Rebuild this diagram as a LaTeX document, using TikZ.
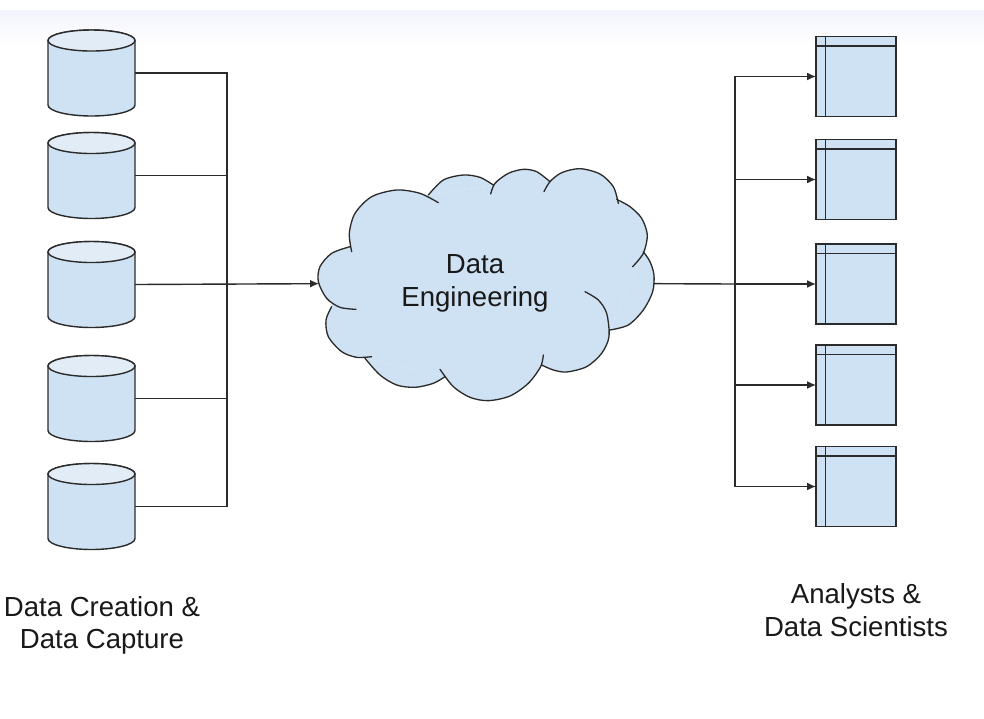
\documentclass[tikz,border=0pt]{standalone}
\usepackage{fontspec}
\setmainfont{Liberation Sans}
\usetikzlibrary{arrows.meta}

\definecolor{boxblue}{HTML}{CFE2F3}
\definecolor{capblue}{HTML}{E2ECF6}
\definecolor{linegray}{HTML}{2B2B2B}
\definecolor{bandtop}{HTML}{F3F4FB}

% cloud outline, one smooth plot per lobe (coordinates read off a 3x crop)
\def\cloudlobes{
  plot[smooth] coordinates {(150,290) (95,310) (60,350) (55,395) (80,445) (120,472) (168,478)}
  plot[smooth] coordinates {(95,470) (78,510) (85,560) (125,605) (170,622) (215,620)}
  plot[smooth] coordinates {(195,625) (240,675) (290,705) (345,712) (400,700) (435,680)}
  plot[smooth] coordinates {(420,658) (460,710) (510,742) (565,752) (630,738) (685,700) (722,650) (730,615)}
  plot[smooth] coordinates {(725,645) (760,660) (800,666) (860,650) (905,610) (927,560) (920,490) (895,450) (855,425)}
  plot[smooth] coordinates {(930,540) (985,525) (1030,480) (1058,425) (1062,375) (1050,335) (1030,305)}
  plot[smooth] coordinates {(998,350) (1030,310) (1042,255) (1025,205) (990,170) (950,148)}
  plot[smooth] coordinates {(955,160) (940,110) (900,72) (840,56) (785,68) (750,95) (732,125)}
  plot[smooth] coordinates {(750,95) (710,65) (670,58) (625,70) (585,100) (572,132)}
  plot[smooth] coordinates {(580,105) (540,82) (490,75) (430,90) (385,135)}
  plot[smooth] coordinates {(415,158) (360,130) (290,120) (215,140) (165,190) (148,250) (155,305)}
}

\tikzset{
  line/.style={draw=linegray,line width=0.8pt},
  tip/.style={-{Latex[length=5pt,width=4.4pt]}},
  store/.style={rectangle,minimum width=1.74cm,minimum height=1.72cm,inner sep=0pt,outer sep=0pt},
  desk/.style={rectangle,draw=linegray,line width=0.9pt,fill=boxblue,
    minimum width=1.6cm,minimum height=1.6cm,inner sep=0pt,outer sep=0pt,
    path picture={
      \draw[line width=0.9pt,draw=linegray]
        ([xshift=0.19cm]path picture bounding box.north west) -- ([xshift=0.19cm]path picture bounding box.south west)
        ([yshift=-0.19cm]path picture bounding box.north west) -- ([yshift=-0.19cm]path picture bounding box.north east);
    }},
  label/.style={align=center,inner sep=0pt,text=black!90,font=\fontsize{15.7}{18.4}\selectfont}
}

\begin{document}
\begin{tikzpicture}[x=0.02cm,y=-0.02cm]
    \useasboundingbox (0,0) rectangle (984,718);

    % faint band along the top
    \fill[white] (0,0) rectangle (984,718);
    \fill[top color=bandtop,bottom color=white] (0,10) rectangle (984,45);

    % sources
    \node[store] (s1) at (91.5,73) {};
    \node[store] (s2) at (91.5,175.5) {};
    \node[store] (s3) at (91.5,284.5) {};
    \node[store] (s4) at (91.5,398.5) {};
    \node[store] (s5) at (91.5,506.5) {};
    \foreach \n in {s1,s2,s3,s4,s5} {
        \draw[line,fill=boxblue] ([yshift=-0.21cm]\n.north west)
            -- ([yshift=0.22cm]\n.south west)
            arc[start angle=180,end angle=360,x radius=0.87cm,y radius=0.22cm]
            -- ([yshift=-0.21cm]\n.north east)
            arc[start angle=0,end angle=180,x radius=0.87cm,y radius=0.21cm] -- cycle;
        \draw[line,fill=capblue] ([yshift=-0.21cm]\n.north) ellipse[x radius=0.87cm,y radius=0.21cm];
    }

    % cloud
    \begin{scope}[shift={(300,150)},x=0.02cm/3,y=-0.02cm/3]
        \fill[boxblue] (150,290) -- (385,135) -- (580,105) -- (750,95) -- (950,148) -- (1030,305) -- (930,540)
            -- (725,645) -- (435,680) -- (195,625) -- (95,470) -- cycle;
        \fill[boxblue] \cloudlobes;
        \draw[line,line cap=round,line width=0.75pt] \cloudlobes;
        \coordinate (cloudW) at (57,401);
        \coordinate (cloudE) at (1060,401);
    \end{scope}
    \node[label] (eng) at (475,283.5) {Data\\Engineering};

    % consumers
    \node[desk] (t1) at (856,76.5) {};
    \node[desk] (t2) at (856,179.5) {};
    \node[desk] (t3) at (856,284) {};
    \node[desk] (t4) at (856,385) {};
    \node[desk] (t5) at (856,486.5) {};

    % buses
    \coordinate (busL) at (227,284);
    \coordinate (busR) at (735,284);
    \draw[line] (s1.east) -| (busL);
    \draw[line] (s2.east) -| (busL);
    \draw[line] (s4.east) -| (busL);
    \draw[line] (s5.east) -| (busL);
    \draw[line,tip] (s3.east) -- (cloudW);

    \draw[line] (cloudE) -- (busR);
    \draw[line,tip] (busR) |- (t1.west);
    \draw[line,tip] (busR) |- (t2.west);
    \draw[line,tip] (busR) -- (t3.west);
    \draw[line,tip] (busR) |- (t4.west);
    \draw[line,tip] (busR) |- (t5.west);

    % captions
    \node[label] (src) at (102,625.5) {Data Creation \&\\Data Capture};
    \node[label] (dst) at (856,610) {Analysts \&\\Data Scientists};
\end{tikzpicture}
\end{document}
